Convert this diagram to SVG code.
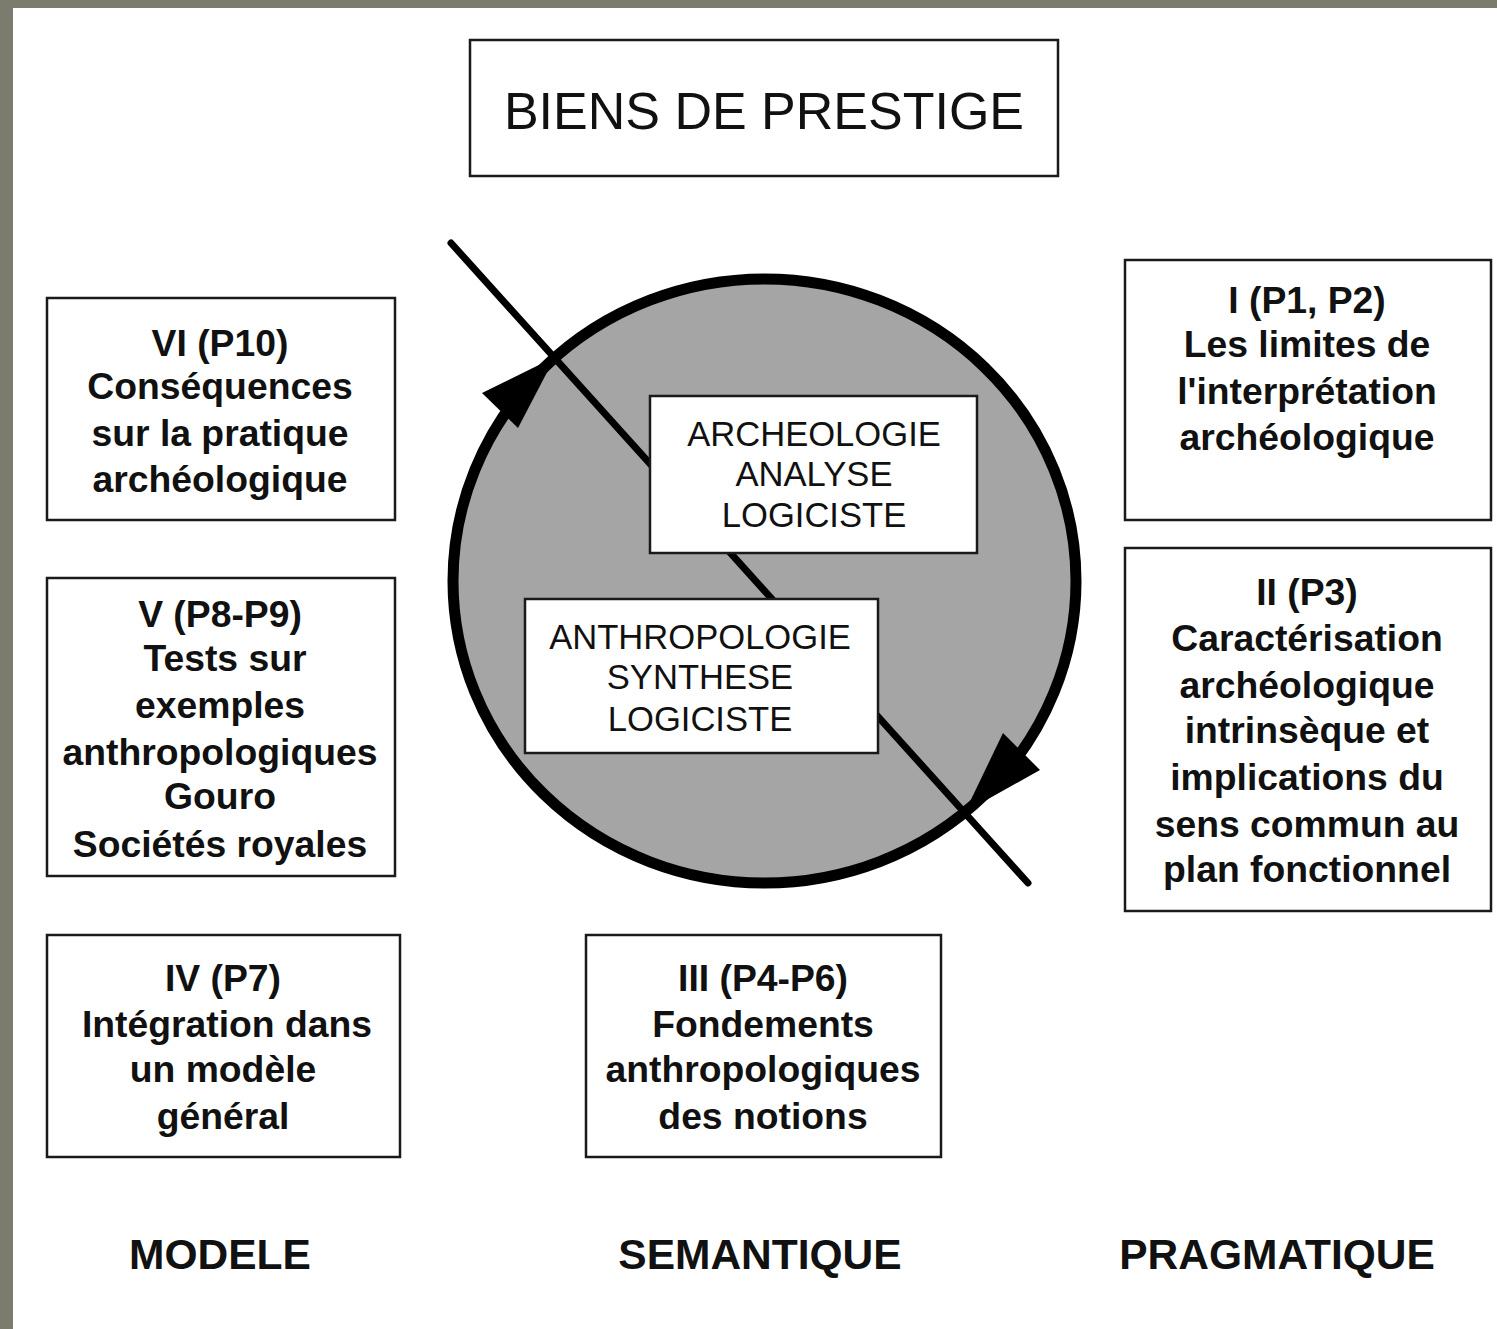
<svg xmlns="http://www.w3.org/2000/svg" width="1497" height="1329" viewBox="0 0 1497 1329">
<style>
.box{fill:#fff;stroke:#1a1a1a;stroke-width:2.5}
.b{font-family:"Liberation Sans",Arial,sans-serif;font-weight:bold;font-size:37.3px;fill:#111;text-anchor:middle}
.r{font-family:"Liberation Sans",Arial,sans-serif;font-size:34.6px;fill:#111;text-anchor:middle}
.lab{font-family:"Liberation Sans",Arial,sans-serif;font-weight:bold;font-size:42.5px;fill:#111;text-anchor:middle}
</style>
<rect x="0" y="0" width="1497" height="1329" fill="#7b7c6e"/>
<rect x="13" y="8" width="1484" height="1321" fill="#fff"/>

<g id="title">
<rect class="box" x="470" y="40" width="588" height="136"/>
<text x="764" y="129" font-family="'Liberation Sans',Arial,sans-serif" font-size="52" fill="#111" text-anchor="middle">BIENS DE PRESTIGE</text>
</g>

<g id="cycle">
<ellipse cx="764.5" cy="581" rx="311.5" ry="302" fill="#a5a5a5" stroke="#000" stroke-width="11"/>
</g>

<g id="connectors">
<line x1="451" y1="243" x2="1028" y2="883" stroke="#000" stroke-width="7" stroke-linecap="round"/>
</g>

<g id="archeologie">
<rect class="box" x="650" y="396" width="327" height="157"/>
<text class="r" x="814" y="446">ARCHEOLOGIE</text>
<text class="r" x="814" y="486">ANALYSE</text>
<text class="r" x="814" y="527">LOGICISTE</text>
</g>

<g id="anthropologie">
<rect class="box" x="525" y="599" width="353" height="154"/>
<text class="r" x="700" y="649">ANTHROPOLOGIE</text>
<text class="r" x="700" y="689">SYNTHESE</text>
<text class="r" x="700" y="731">LOGICISTE</text>
</g>

<g id="arrowheads">
<polygon points="555,357 482,393 518,428" fill="#000"/>
<polygon points="965,812 1003,733 1040,770" fill="#000"/>
</g>

<g id="n6">
<rect class="box" x="47" y="298" width="348" height="222"/>
<text class="b" x="220" y="356">VI (P10)</text>
<text class="b" x="220" y="399">Conséquences</text>
<text class="b" x="220" y="446">sur la pratique</text>
<text class="b" x="220" y="492">archéologique</text>
</g>

<g id="n5">
<rect class="box" x="47" y="578" width="348" height="298"/>
<text class="b" x="220" y="627">V (P8-P9)</text>
<text class="b" x="225" y="671">Tests sur</text>
<text class="b" x="220" y="718">exemples</text>
<text class="b" x="220" y="765">anthropologiques</text>
<text class="b" x="220" y="809">Gouro</text>
<text class="b" x="220" y="857">Sociétés royales</text>
</g>

<g id="n4">
<rect class="box" x="47" y="935" width="353" height="222"/>
<text class="b" x="223" y="991">IV (P7)</text>
<text class="b" x="227" y="1037">Intégration dans</text>
<text class="b" x="223" y="1082">un modèle</text>
<text class="b" x="223" y="1129">général</text>
</g>

<g id="n3">
<rect class="box" x="586" y="935" width="355" height="222"/>
<text class="b" x="763" y="991">III (P4-P6)</text>
<text class="b" x="763" y="1037">Fondements</text>
<text class="b" x="763" y="1082">anthropologiques</text>
<text class="b" x="763" y="1129">des notions</text>
</g>

<g id="n1">
<rect class="box" x="1125" y="260" width="366" height="260"/>
<text class="b" x="1307" y="313">I (P1, P2)</text>
<text class="b" x="1307" y="357">Les limites de</text>
<text class="b" x="1307" y="404">l'interprétation</text>
<text class="b" x="1307" y="450">archéologique</text>
</g>

<g id="n2">
<rect class="box" x="1125" y="548" width="366" height="363"/>
<text class="b" x="1307" y="605">II (P3)</text>
<text class="b" x="1307" y="651">Caractérisation</text>
<text class="b" x="1307" y="698">archéologique</text>
<text class="b" x="1307" y="743">intrinsèque et</text>
<text class="b" x="1307" y="790">implications du</text>
<text class="b" x="1307" y="837">sens commun au</text>
<text class="b" x="1307" y="882">plan fonctionnel</text>
</g>

<g id="labels">
<text class="lab" x="220" y="1269">MODELE</text>
<text class="lab" x="760" y="1269">SEMANTIQUE</text>
<text class="lab" x="1277" y="1269">PRAGMATIQUE</text>
</g>
</svg>
